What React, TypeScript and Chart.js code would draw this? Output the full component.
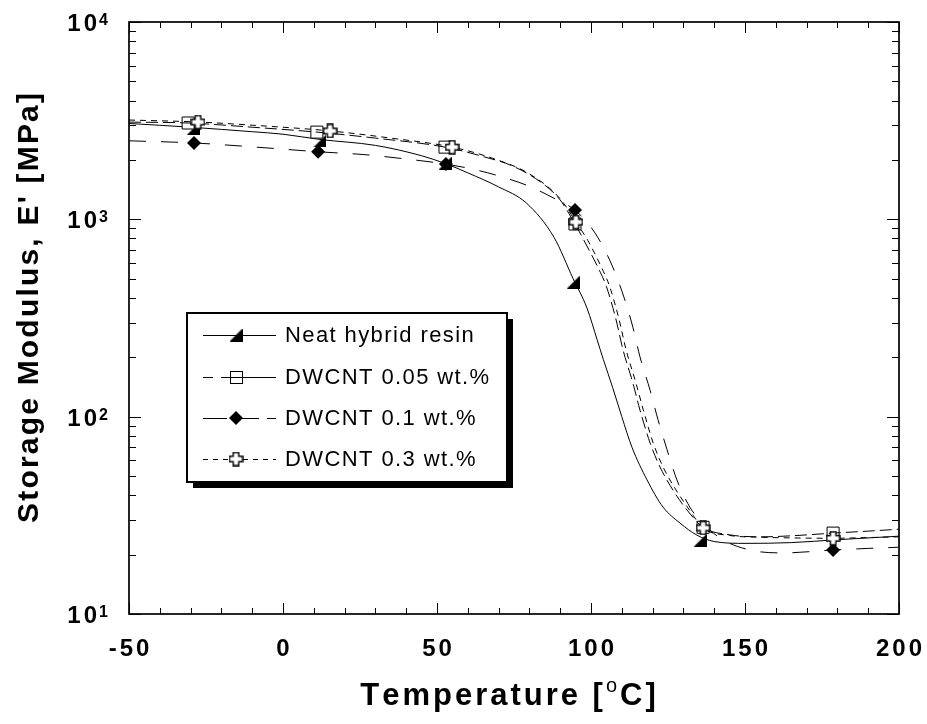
import React, { useEffect, useRef } from "react";
import { Chart, registerables } from "chart.js";

Chart.register(...registerables);

// Temperature axis (°C)
const xMin = -50;
const xMax = 200;
const xMajorStep = 50;
const xMinorStep = 10;
const xTickLabels = ["-50", "0", "50", "100", "150", "200"];

// Storage modulus axis (MPa), logarithmic
const yMin = 10;
const yMax = 10000;
const yDecades = [10, 100, 1000, 10000];

const seriesLabels = [
  "Neat hybrid resin",
  "DWCNT 0.05 wt.%",
  "DWCNT 0.1 wt.%",
  "DWCNT 0.3 wt.%",
];

// Neat hybrid resin
const neatTemp = [-50, -30, -10, 0, 12, 30, 45, 53, 60, 70, 79, 88, 94.2, 98.7, 102, 104, 107, 110, 113.3, 118.2, 123.4, 128.9, 134.4, 140, 150, 165, 180, 200];
const neatModulus = [3060, 2930, 2780, 2700, 2540, 2370, 2100, 1910, 1720, 1460, 1210, 810, 500, 355, 245, 195, 141, 100, 70, 47.8, 34.8, 28.9, 25.1, 23.3, 22.8, 23.0, 23.8, 24.8];
const neatMarkTemp = [-29.2, 12, 52.6, 94.2, 135.4];
const neatMarkModulus = [2880, 2500, 1925, 480, 23.6];

// DWCNT 0.05 wt.%
const cnt005Temp = [-50, -30.8, -10, 11, 30, 52.6, 65, 75, 85, 90, 94.8, 98, 103, 105, 108, 110.4, 113.6, 115.9, 119.2, 122.4, 126.6, 131.2, 136.4, 145, 155, 165, 178.6, 190, 200];
const cnt005Modulus = [3110, 3077, 2930, 2767, 2580, 2322, 2080, 1850, 1490, 1253, 947, 767, 540, 457, 316, 218, 148, 108, 73.5, 55.6, 42.5, 33.6, 27.5, 25.2, 24.6, 24.9, 25.7, 26.3, 26.9];
const cnt005MarkTemp = [-30.8, 11, 52.6, 94.8, 136.4, 178.6];
const cnt005MarkModulus = [3077, 2767, 2322, 947, 27.5, 25.7];

// DWCNT 0.1 wt.%
const cnt01Temp = [-50, -28.9, -10, 11.4, 26, 37, 52.9, 62, 70, 80, 90, 94.8, 101.3, 106.8, 110.7, 113.6, 115.9, 119.2, 121.8, 124.7, 127.9, 132.1, 135.4, 142, 151.6, 162.3, 178.6, 190, 200];
const cnt01Modulus = [2500, 2438, 2330, 2200, 2130, 2046, 1905, 1790, 1660, 1470, 1230, 1114, 853, 586, 403, 284, 201, 136, 96, 68, 47.8, 34.8, 29.9, 24.2, 21.1, 20.4, 21.1, 21.5, 21.8];
const cnt01MarkTemp = [-28.9, 11.4, 52.9, 94.8, 178.6];
const cnt01MarkModulus = [2438, 2200, 1905, 1114, 21.1];

// DWCNT 0.3 wt.%
const cnt03Temp = [-50, -27.6, -10, 15.3, 35, 54.9, 68, 80, 90, 95.1, 99, 104, 106, 109, 111.4, 114.6, 117, 120.2, 123.4, 127.6, 132, 136.4, 145, 155, 165, 178.6, 190, 200];
const cnt03Modulus = [3186, 3113, 3000, 2805, 2580, 2322, 2040, 1700, 1270, 969, 780, 545, 460, 316, 218, 148, 108, 73.5, 55.6, 42.5, 33.6, 27.3, 25.0, 24.5, 24.3, 24.2, 24.4, 24.6];
const cnt03MarkTemp = [-27.6, 15.3, 54.9, 95.1, 136.4, 178.6];
const cnt03MarkModulus = [3113, 2805, 2322, 969, 27.3, 24.2];

const FONT = '"Liberation Sans", Arial, Helvetica, sans-serif';

const dash005 = [12, 5];
const dash01 = [17, 15];
const dash03 = [6, 5];

function pts(xs: number[], ys: number[]) {
  return xs.map((x, i) => ({ x, y: ys[i] }));
}

function makeTriangle(size: number) {
  const c = document.createElement("canvas");
  c.width = size;
  c.height = size;
  const g = c.getContext("2d")!;
  g.fillStyle = "#000";
  g.beginPath();
  g.moveTo(0, size);
  g.lineTo(size, 0);
  g.lineTo(size, size);
  g.closePath();
  g.fill();
  return c;
}

function makePlus(size: number) {
  const c = document.createElement("canvas");
  c.width = size;
  c.height = size;
  const g = c.getContext("2d")!;
  const m = size / 2;
  const a = 2.8;
  const e = size / 2 - 1;
  const p: [number, number][] = [
    [m - a, m - e], [m + a, m - e], [m + a, m - a], [m + e, m - a],
    [m + e, m + a], [m + a, m + a], [m + a, m + e], [m - a, m + e],
    [m - a, m + a], [m - e, m + a], [m - e, m - a], [m - a, m - a],
  ];
  g.beginPath();
  p.forEach(([x, y], i) => (i ? g.lineTo(x, y) : g.moveTo(x, y)));
  g.closePath();
  g.fillStyle = "#fff";
  g.fill();
  g.strokeStyle = "#000";
  g.lineWidth = 1.4;
  g.stroke();
  return c;
}

function drawSpaced(ctx: CanvasRenderingContext2D, text: string, x: number, y: number, sp: number) {
  let cx = x;
  for (const ch of text) {
    ctx.fillText(ch, cx, y);
    cx += ctx.measureText(ch).width + sp;
  }
  return cx - sp;
}

function spacedWidth(ctx: CanvasRenderingContext2D, text: string, sp: number) {
  let w = 0;
  for (const ch of text) w += ctx.measureText(ch).width;
  return w + sp * (text.length - 1);
}

export default function App() {
  const ref = useRef<HTMLCanvasElement>(null);

  useEffect(() => {
    const canvas = ref.current!;
    const tri = makeTriangle(13);
    const plus = makePlus(15);

    const decor = {
      id: "decor",
      afterDatasetsDraw(chart: any) {
        const ctx: CanvasRenderingContext2D = chart.ctx;
        const a = chart.chartArea;
        const xs = chart.scales.x;
        const ys = chart.scales.y;
        ctx.save();

        // inward tick marks on all four sides
        ctx.strokeStyle = "#000";
        ctx.lineWidth = 1;
        ctx.beginPath();
        for (let t = xMin; t <= xMax + 1e-9; t += xMinorStep) {
          const px = Math.round(xs.getPixelForValue(t)) + 0.5;
          const len = Math.abs(t % xMajorStep) < 1e-9 ? 11 : 6;
          ctx.moveTo(px, a.bottom);
          ctx.lineTo(px, a.bottom - len);
          ctx.moveTo(px, a.top);
          ctx.lineTo(px, a.top + len);
        }
        for (let d = yMin; d <= yMax; d *= 10) {
          for (let m = 1; m <= 9; m++) {
            const v = d * m;
            if (v > yMax) break;
            const py = Math.round(ys.getPixelForValue(v)) + 0.5;
            const len = m === 1 ? 12 : 7;
            ctx.moveTo(a.left, py);
            ctx.lineTo(a.left + len, py);
            ctx.moveTo(a.right, py);
            ctx.lineTo(a.right - len, py);
          }
        }
        ctx.stroke();

        // plot frame
        ctx.lineWidth = 1.7;
        ctx.strokeRect(a.left, a.top, a.right - a.left, a.bottom - a.top);

        // legend box with drop shadow
        const bx = 187, by = 313, bw = 320, bh = 169;
        ctx.fillStyle = "#000";
        ctx.fillRect(bx + 6, by + 6, bw, bh);
        ctx.fillStyle = "#fff";
        ctx.fillRect(bx, by, bw, bh);
        ctx.lineWidth = 2;
        ctx.strokeStyle = "#000";
        ctx.strokeRect(bx, by, bw, bh);

        const rowY = [335, 377, 418, 459];
        const lx0 = 203, lx1 = 276, mx = 236;
        const legendDash = [[], [10, 8, 80, 0], [24, 8], [5, 5]];
        const drawLine = (i: number) => {
          ctx.save();
          ctx.lineWidth = 1;
          ctx.strokeStyle = "#000";
          ctx.setLineDash(legendDash[i]);
          ctx.beginPath();
          ctx.moveTo(lx0, rowY[i] + 0.5);
          ctx.lineTo(lx1, rowY[i] + 0.5);
          ctx.stroke();
          ctx.restore();
        };
        // row 1: triangle
        drawLine(0);
        ctx.drawImage(tri, mx - 6.5, rowY[0] - 6.5);
        // row 2: hollow square with the line through it
        ctx.fillStyle = "#fff";
        ctx.fillRect(mx - 6, rowY[1] - 6, 12, 12);
        ctx.lineWidth = 1;
        ctx.strokeRect(mx - 6 + 0.5, rowY[1] - 6 + 0.5, 12, 12);
        drawLine(1);
        // row 3: diamond
        drawLine(2);
        ctx.fillStyle = "#000";
        ctx.beginPath();
        ctx.moveTo(mx - 7, rowY[2]);
        ctx.lineTo(mx, rowY[2] - 7);
        ctx.lineTo(mx + 7, rowY[2]);
        ctx.lineTo(mx, rowY[2] + 7);
        ctx.closePath();
        ctx.fill();
        // row 4: open cross
        drawLine(3);
        ctx.drawImage(plus, mx - 7.5, rowY[3] - 7.5);

        ctx.fillStyle = "#000";
        ctx.font = `22px ${FONT}`;
        ctx.textBaseline = "middle";
        ctx.textAlign = "left";
        seriesLabels.forEach((s, i) => drawSpaced(ctx, s, 285, rowY[i] + 1, 1.4));

        ctx.restore();
      },
      afterDraw(chart: any) {
        const ctx: CanvasRenderingContext2D = chart.ctx;
        const a = chart.chartArea;
        const xs = chart.scales.x;
        const ys = chart.scales.y;
        ctx.save();
        ctx.fillStyle = "#000";
        ctx.textAlign = "left";
        ctx.textBaseline = "alphabetic";

        // x tick labels
        ctx.font = `bold 24px ${FONT}`;
        xTickLabels.forEach((lab) => {
          const px = xs.getPixelForValue(Number(lab));
          const w = spacedWidth(ctx, lab, 3);
          drawSpaced(ctx, lab, px - w / 2, a.bottom + 42, 3);
        });

        // y tick labels as powers of ten
        yDecades.forEach((v) => {
          const py = ys.getPixelForValue(v);
          const exp = String(Math.round(Math.log10(v)));
          ctx.font = `bold 24px ${FONT}`;
          const w = spacedWidth(ctx, "10", 3);
          const right = a.left - 32;
          drawSpaced(ctx, "10", right - w, py + 9, 3);
          ctx.font = `bold 16px ${FONT}`;
          ctx.fillText(exp, right + 2, py + 3);
        });

        // x axis title with superscript degree
        const bigFont = `bold 31px ${FONT}`;
        const supFont = `20px ${FONT}`;
        const sp = 3;
        ctx.font = bigFont;
        const w1 = spacedWidth(ctx, "Temperature [", sp);
        const w3 = spacedWidth(ctx, "C]", sp);
        ctx.font = supFont;
        const w2 = ctx.measureText("o").width;
        const total = w1 + sp + w2 + sp + w3;
        const cx = (a.left + a.right) / 2 - 6;
        let x = cx - total / 2;
        const base = 705;
        ctx.font = bigFont;
        x = drawSpaced(ctx, "Temperature [", x, base, sp) + sp;
        ctx.font = supFont;
        ctx.fillText("o", x, base - 13);
        x += w2 + sp;
        ctx.font = bigFont;
        drawSpaced(ctx, "C]", x, base, sp);

        // y axis title, rotated
        ctx.save();
        ctx.translate(38, (a.top + a.bottom) / 2 - 10);
        ctx.rotate(-Math.PI / 2);
        ctx.font = `bold 30px ${FONT}`;
        const ytitle = "Storage Modulus, E' [MPa]";
        const yw = spacedWidth(ctx, ytitle, 2.2);
        drawSpaced(ctx, ytitle, -yw / 2, 0, 2.2);
        ctx.restore();

        ctx.restore();
      },
    };

    const line = (data: any, dash: number[], order: number) => ({
      data,
      showLine: true,
      borderColor: "#000",
      borderWidth: 1,
      borderDash: dash,
      pointRadius: 0,
      cubicInterpolationMode: "monotone" as const,
      order,
    });

    const chart = new Chart(canvas, {
      type: "scatter",
      data: {
        datasets: [
          line(pts(neatTemp, neatModulus), [], 8),
          {
            data: pts(neatMarkTemp, neatMarkModulus),
            showLine: false,
            pointStyle: tri,
            pointRadius: 7,
            order: 7,
          },
          {
            data: pts(cnt005MarkTemp, cnt005MarkModulus),
            showLine: false,
            pointStyle: "rect",
            pointRadius: 8.5,
            backgroundColor: "#fff",
            borderColor: "#000",
            borderWidth: 1,
            order: 6,
          },
          line(pts(cnt005Temp, cnt005Modulus), dash005, 5),
          line(pts(cnt01Temp, cnt01Modulus), dash01, 4),
          {
            data: pts(cnt01MarkTemp, cnt01MarkModulus),
            showLine: false,
            pointStyle: "rectRot",
            pointRadius: 7,
            backgroundColor: "#000",
            borderColor: "#000",
            borderWidth: 0,
            order: 3,
          },
          line(pts(cnt03Temp, cnt03Modulus), dash03, 2),
          {
            data: pts(cnt03MarkTemp, cnt03MarkModulus),
            showLine: false,
            pointStyle: plus,
            pointRadius: 7,
            order: 1,
          },
        ] as any,
      },
      options: {
        animation: false,
        responsive: false,
        devicePixelRatio: 1,
        events: [],
        layout: { padding: { left: 129, right: 28, top: 22, bottom: 110 } },
        plugins: { legend: { display: false }, tooltip: { enabled: false } },
        scales: {
          x: { type: "linear", min: xMin, max: xMax, display: false },
          y: { type: "logarithmic", min: yMin, max: yMax, display: false },
        },
      },
      plugins: [decor],
    });

    return () => chart.destroy();
  }, []);

  return (
    <div style={{ position: "absolute", left: 0, top: 0, width: 927, height: 724, background: "#fff" }}>
      <canvas ref={ref} width={927} height={724} style={{ display: "block", width: 927, height: 724 }} />
    </div>
  );
}
